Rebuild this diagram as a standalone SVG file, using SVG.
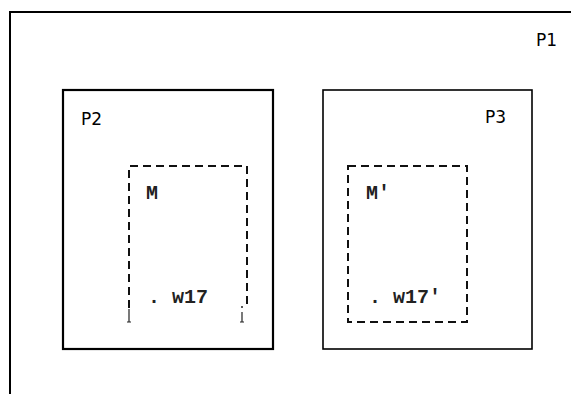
<svg xmlns="http://www.w3.org/2000/svg" width="571" height="394" viewBox="0 0 571 394">
<style>
.box{fill:none;stroke:#000}
.dash{fill:none;stroke:#111;stroke-width:2;stroke-dasharray:8 5}
.lbl{font-family:"DejaVu Sans",Verdana,sans-serif;font-size:17px;fill:#000}
.mono{font-family:"Liberation Mono","Courier New",monospace;font-size:20px;font-weight:bold;fill:#222}
</style>
<rect width="571" height="394" fill="#fff"/>
<g id="P1">
<rect class="box" x="10" y="12" width="580" height="400" stroke-width="2"/>
<text class="lbl" x="536" y="46">P1</text>
</g>
<g id="P2">
<rect class="box" x="63" y="90" width="210" height="259" stroke-width="2.2"/>
<text class="lbl" x="81" y="125">P2</text>
</g>
<g id="P3">
<rect class="box" x="323" y="90" width="209" height="259" stroke-width="1.6"/>
<text class="lbl" x="485" y="123">P3</text>
</g>
<g id="M">
<path class="dash" d="M129 308 V166 H247 V308"/>
<path d="M129 309 V322 M127 322 H131 M242 312 V322 M240 322 H244" stroke="#222" stroke-width="1.2" fill="none"/>
<circle cx="242" cy="307" r="1" fill="#222"/>
<text class="mono" x="146" y="199">M</text>
<text class="mono" x="148" y="303">. w17</text>
</g>
<g id="Mprime">
<rect class="dash" x="348" y="166" width="119" height="156"/>
<text class="mono" x="366" y="199">M'</text>
<text class="mono" x="369" y="303">. w17'</text>
</g>
<g id="connectors"></g>
</svg>
